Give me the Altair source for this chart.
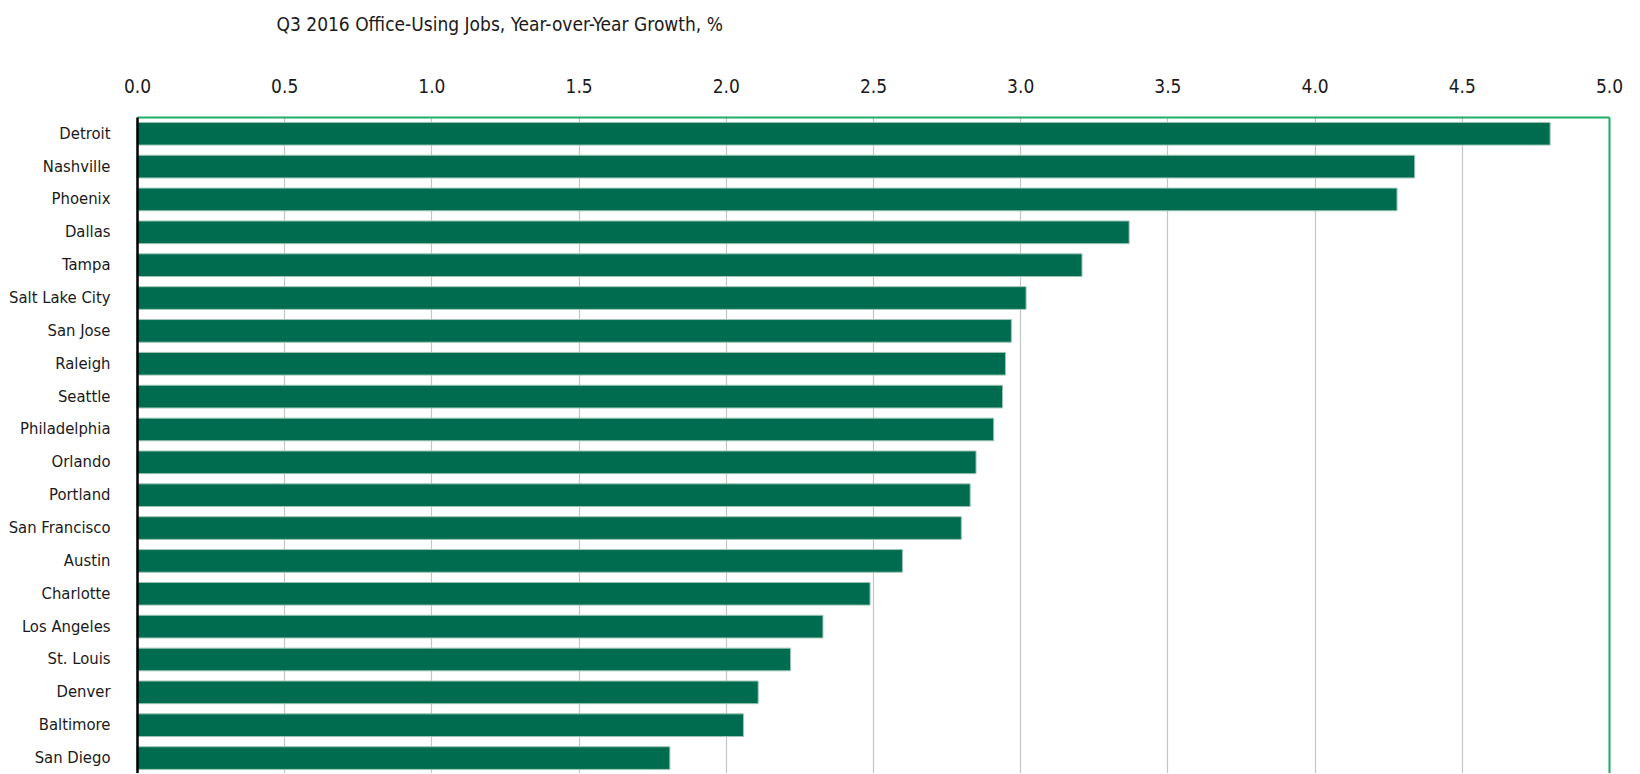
import altair as alt
import pandas as pd

cities = ["Detroit", "Nashville", "Phoenix", "Dallas", "Tampa", "Salt Lake City",
          "San Jose", "Raleigh", "Seattle", "Philadelphia", "Orlando", "Portland",
          "San Francisco", "Austin", "Charlotte", "Los Angeles", "St. Louis",
          "Denver", "Baltimore", "San Diego"]
growth = [4.80, 4.34, 4.28, 3.37, 3.21, 3.02, 2.97, 2.95, 2.94, 2.91, 2.85, 2.83,
          2.80, 2.60, 2.49, 2.33, 2.22, 2.11, 2.06, 1.81]
x_ticks = [0.0, 0.5, 1.0, 1.5, 2.0, 2.5, 3.0, 3.5, 4.0, 4.5, 5.0]
title_text = "Q3 2016 Office-Using Jobs, Year-over-Year Growth, %"

df = pd.DataFrame({"city": cities, "growth": growth})

FONT = "DejaVu Sans Condensed, DejaVu Sans, sans-serif"
GREEN_BORDER = "#1fae66"
TEXT = "#1a1a1a"

yscale = alt.Scale(paddingInner=0.31, paddingOuter=0.137, align=0.6)
xscale = alt.Scale(domain=[0, 5], nice=False, zero=True)

base = alt.Chart(df)

bars = base.mark_bar(
    color="#006c4f", stroke="#9cc5b5", strokeWidth=1
).encode(
    x=alt.X("growth:Q", scale=xscale,
            axis=alt.Axis(orient="top", values=x_ticks, format=".1f",
                          title=title_text, titleX=139, titleY=-87,
                          titleAlign="left", titleAnchor="start",
                          titleBaseline="alphabetic", titleFont=FONT,
                          titleFontSize=19, titleFontWeight="normal",
                          titleColor=TEXT,
                          labelFont=FONT, labelFontSize=19, labelColor=TEXT,
                          labelBaseline="alphabetic", labelPadding=25,
                          ticks=False, tickSize=0,
                          domain=True, domainColor=GREEN_BORDER, domainWidth=2,
                          grid=True, gridColor="#c3c6c6", gridWidth=1.2,
                          labelFlush=False, zindex=0)),
    y=alt.Y("city:N", sort=cities, scale=yscale,
            axis=alt.Axis(title=None, labelFont=FONT, labelFontSize=16.5,
                          labelColor=TEXT, labelPadding=27,
                          ticks=False, tickSize=0, domain=True,
                          domainColor="#000000", domainWidth=2.5,
                          grid=False, zindex=2)),
)

right_edge = base.mark_bar(opacity=0).encode(
    x=alt.X("growth:Q", scale=xscale, axis=None),
    y=alt.Y("city:N", sort=cities, scale=yscale,
            axis=alt.Axis(orient="right", title=None, labels=False,
                          ticks=False, tickSize=0, grid=False,
                          domain=True, domainColor=GREEN_BORDER,
                          domainWidth=2, zindex=1)),
)

chart = alt.layer(bars, right_edge).resolve_axis(
    x="independent", y="independent"
).properties(
    width=1472, height=656,
    padding={"left": 137, "top": 117, "right": 31, "bottom": 0},
    autosize=alt.AutoSizeParams(type="none"),
).configure_view(stroke=None)

chart.save("out.html", embed_options={"renderer": "svg", "actions": False})
